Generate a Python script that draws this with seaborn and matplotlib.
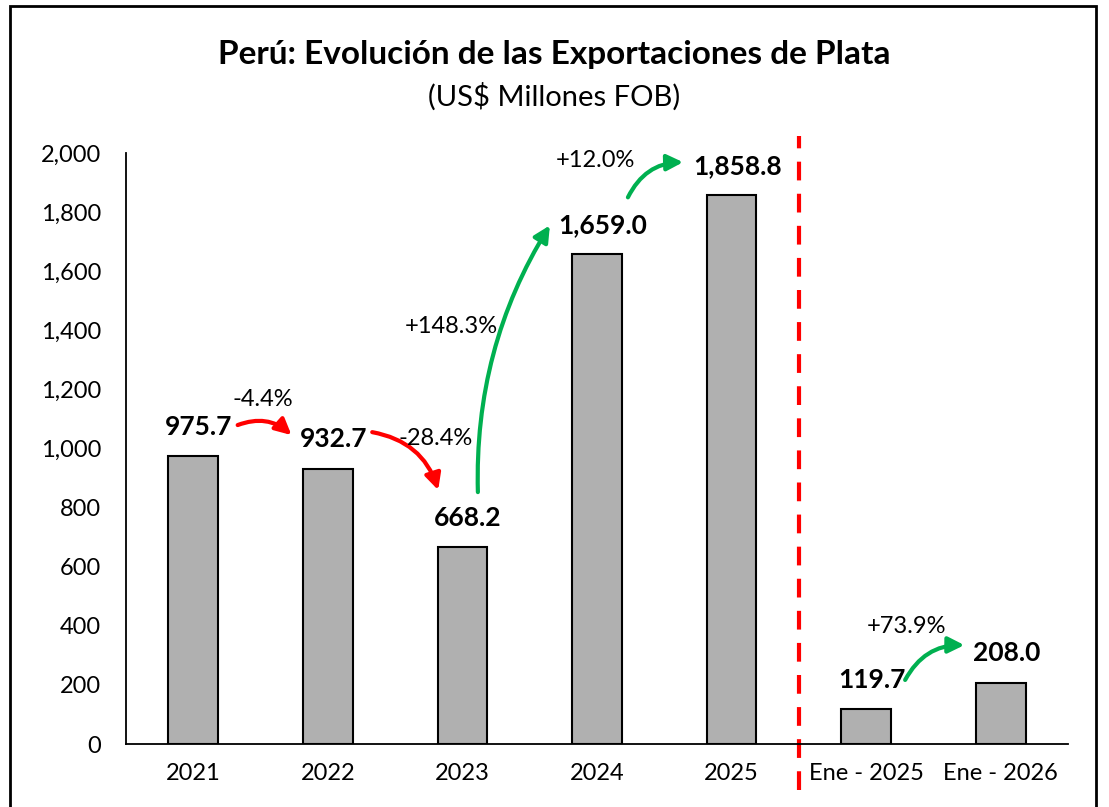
import numpy as np
import pandas as pd
import seaborn as sns
import matplotlib.pyplot as plt
from matplotlib.patches import Rectangle

# Data
categories = ["2021", "2022", "2023", "2024", "2025", "Ene - 2025", "Ene - 2026"]
values = [975.7, 932.7, 668.2, 1659.0, 1858.8, 119.7, 208.0]
value_labels = ["975.7", "932.7", "668.2", "1,659.0", "1,858.8", "119.7", "208.0"]
y_ticks = [0, 200, 400, 600, 800, 1000, 1200, 1400, 1600, 1800, 2000]

# variation arrows: (from index, to index, label, colour)
changes = [
    (0, 1, "-4.4%", "#FF0000"),
    (1, 2, "-28.4%", "#FF0000"),
    (2, 3, "+148.3%", "#00B050"),
    (3, 4, "+12.0%", "#00B050"),
    (5, 6, "+73.9%", "#00B050"),
]

df = pd.DataFrame({"cat": categories, "val": values})

sns.set_theme(style="white")
plt.rcParams["font.family"] = ["Lato", "DejaVu Sans"]
plt.rcParams["text.color"] = "black"

fig = plt.figure(figsize=(11.09, 8.07), dpi=100)
ax = fig.add_axes([0.1136, 0.078, 0.8494, 0.732])

sns.barplot(data=df, x="cat", y="val", color="#B0B0B0", edgecolor="black",
            linewidth=1.5, width=0.37, saturation=1, ax=ax)

ax.set_xlim(-0.5, 6.5)
ax.set_ylim(0, 2000)
ax.set_yticks(y_ticks)
ax.set_yticklabels([f"{t:,}" for t in y_ticks])
ax.set_xlabel("")
ax.set_ylabel("")
ax.tick_params(axis="both", labelsize=17, colors="black", length=0)
ax.tick_params(axis="y", pad=18)
ax.tick_params(axis="x", pad=14)
for s in ["top", "right"]:
    ax.spines[s].set_visible(False)
for s in ["left", "bottom"]:
    ax.spines[s].set_color("black")
    ax.spines[s].set_linewidth(1.3)

# value labels
for i, (v, lab) in enumerate(zip(values, value_labels)):
    ax.annotate(lab, (i, v), xytext=(4, 21), textcoords="offset points",
                ha="center", va="center", fontsize=19, fontweight="bold",
                color="black")

# arrows for the percentage changes (positions are relative to the bars)
arrow_geom = {
    0: ((0.33, 1080), (0.73, 1046), (0.52, 1165), -0.3),
    1: ((1.33, 1056), (1.82, 860), (1.80, 1035), -0.3),
    2: ((2.115, 853), (2.65, 1756), (1.92, 1414), -0.15),
    3: ((3.23, 1851), (3.64, 1970), (2.99, 1976), -0.3),
    4: ((5.29, 217), (5.73, 335), (5.30, 399), -0.3),
}
for k, (a, b, lab, col) in enumerate(changes):
    start, end, txt, rad = arrow_geom[k]
    ax.annotate("", xy=end, xytext=start,
                arrowprops=dict(arrowstyle="-|>", color=col, lw=3,
                                mutation_scale=24, shrinkA=0, shrinkB=0,
                                connectionstyle=f"arc3,rad={rad}"))
    ax.text(txt[0], txt[1], lab, ha="center", va="center", fontsize=17,
            color="black")

# dashed separator between annual and monthly data
ax.axvline(4.5, ymin=-0.078, ymax=1.03, color="#FF0000", lw=3,
           dashes=(4.5, 3.2), clip_on=False)

fig.text(0.5, 0.932, "Perú: Evolución de las Exportaciones de Plata",
         ha="center", va="center", fontsize=24, fontweight="bold", color="black")
fig.text(0.5, 0.880, "(US$ Millones FOB)", ha="center", va="center",
         fontsize=21, color="black")

fig.patches.append(Rectangle((10 / 1109, -0.01), 1086 / 1109, 1.01 - 6 / 807,
                             transform=fig.transFigure, fill=False,
                             edgecolor="black", lw=2))

fig.savefig("out.png", dpi=100)
